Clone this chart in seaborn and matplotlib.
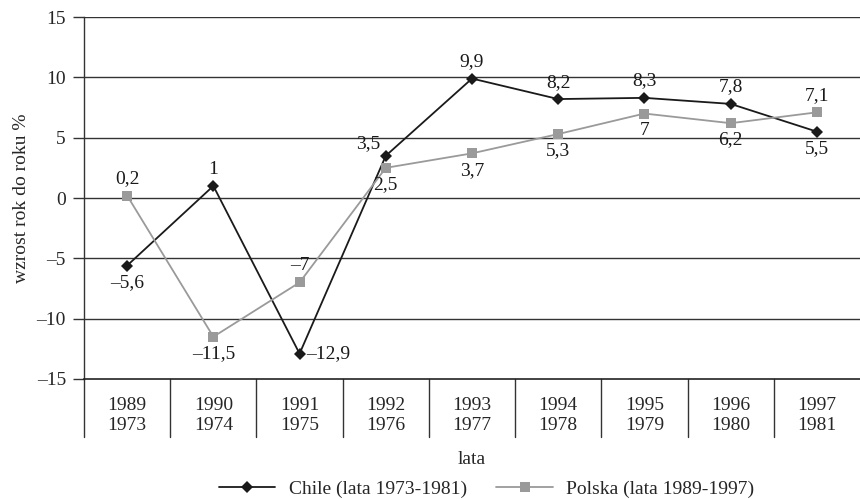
import matplotlib
matplotlib.use("Agg")
import matplotlib.pyplot as plt
import seaborn as sns
import pandas as pd
import numpy as np

years_pl = ["1989", "1990", "1991", "1992", "1993", "1994", "1995", "1996", "1997"]
years_cl = ["1973", "1974", "1975", "1976", "1977", "1978", "1979", "1980", "1981"]
chile = [-5.6, 1.0, -12.9, 3.5, 9.9, 8.2, 8.3, 7.8, 5.5]
polska = [0.2, -11.5, -7.0, 2.5, 3.7, 5.3, 7.0, 6.2, 7.1]
chile_name = "Chile (lata 1973-1981)"
polska_name = "Polska (lata 1989-1997)"
# label placement: 'a' above, 'b' below, 'r' right, 'l' left-above
chile_pos = ["b", "a", "r", "l", "a", "a", "a", "a", "b"]
polska_pos = ["a", "b", "a", "b", "b", "b", "b", "b", "a"]

sns.set_theme(style="white")
plt.rcParams["font.family"] = ["Liberation Serif", "DejaVu Serif"]
FS = 14

fig = plt.figure(figsize=(8.6, 4.99), dpi=100)
ax = fig.add_axes([0.0977, 0.2405, 0.9023, 0.7254])

x = np.arange(len(years_pl))
df = pd.DataFrame({
    "x": np.concatenate([x, x]),
    "v": chile + polska,
    "s": [chile_name] * len(x) + [polska_name] * len(x),
})
sns.lineplot(data=df, x="x", y="v", hue="s", style="s",
             palette={chile_name: "#1a1a1a", polska_name: "#9a9a9a"},
             markers={chile_name: "D", polska_name: "s"},
             dashes=False, markersize=6.5, markeredgewidth=0, linewidth=1.3,
             ax=ax, legend=True)

ax.set_ylim(-15, 15)
ax.set_xlim(-0.5, 8.5)
ax.set_yticks([-15, -10, -5, 0, 5, 10, 15])
ax.set_yticklabels(["–15", "–10", "–5", "0", "5", "10", "15"], fontsize=FS)
ax.set_xticks(x)
ax.set_xticklabels([f"{a}\n{b}" for a, b in zip(years_pl, years_cl)], fontsize=FS, linespacing=1.25)
ax.tick_params(axis="x", length=0, pad=13)
ax.tick_params(axis="y", length=8, width=1, color="#333333", pad=5, left=True)
for yv in [-10, -5, 0, 5, 10, 15]:
    ax.axhline(yv, color="#333333", lw=1, zorder=0)
for s in ["top", "right"]:
    ax.spines[s].set_visible(False)
ax.spines["bottom"].set_color("#222222")
ax.spines["left"].set_color("#333333")
ax.spines["bottom"].set_linewidth(1.2)
ax.spines["left"].set_linewidth(1)

# category separators below axis
trans = ax.get_xaxis_transform()
for k in range(len(x)):
    ax.plot([k - 0.5, k - 0.5], [0, -0.16], transform=trans, color="#333333", lw=1, clip_on=False)

ax.set_xlabel("lata", fontsize=FS, labelpad=12)
ax.set_ylabel("wzrost rok do roku %", fontsize=FS, labelpad=5)

def fmt(v):
    s = f"{v:g}".replace(".", ",")
    return s.replace("-", "–")

offs = {"a": (0, 6, "center", "bottom"), "b": (0, -6, "center", "top"),
        "r": (5, 0, "left", "center"), "l": (-4, 3, "right", "bottom")}
for vals, poss in [(chile, chile_pos), (polska, polska_pos)]:
    for xi, v, p in zip(x, vals, poss):
        dx, dy, ha, va = offs[p]
        ax.annotate(fmt(v), (xi, v), xytext=(dx, dy), textcoords="offset points",
                    ha=ha, va=va, fontsize=FS, color="#1a1a1a")

h, l = ax.get_legend_handles_labels()
ax.legend(h, l, loc="lower center", bbox_to_anchor=(0.566, -0.018),
          bbox_transform=fig.transFigure, ncol=2, frameon=False, fontsize=FS,
          handlelength=2.9, columnspacing=1.5, handletextpad=0.7, borderaxespad=0.1)

fig.savefig("out.png", dpi=100)
